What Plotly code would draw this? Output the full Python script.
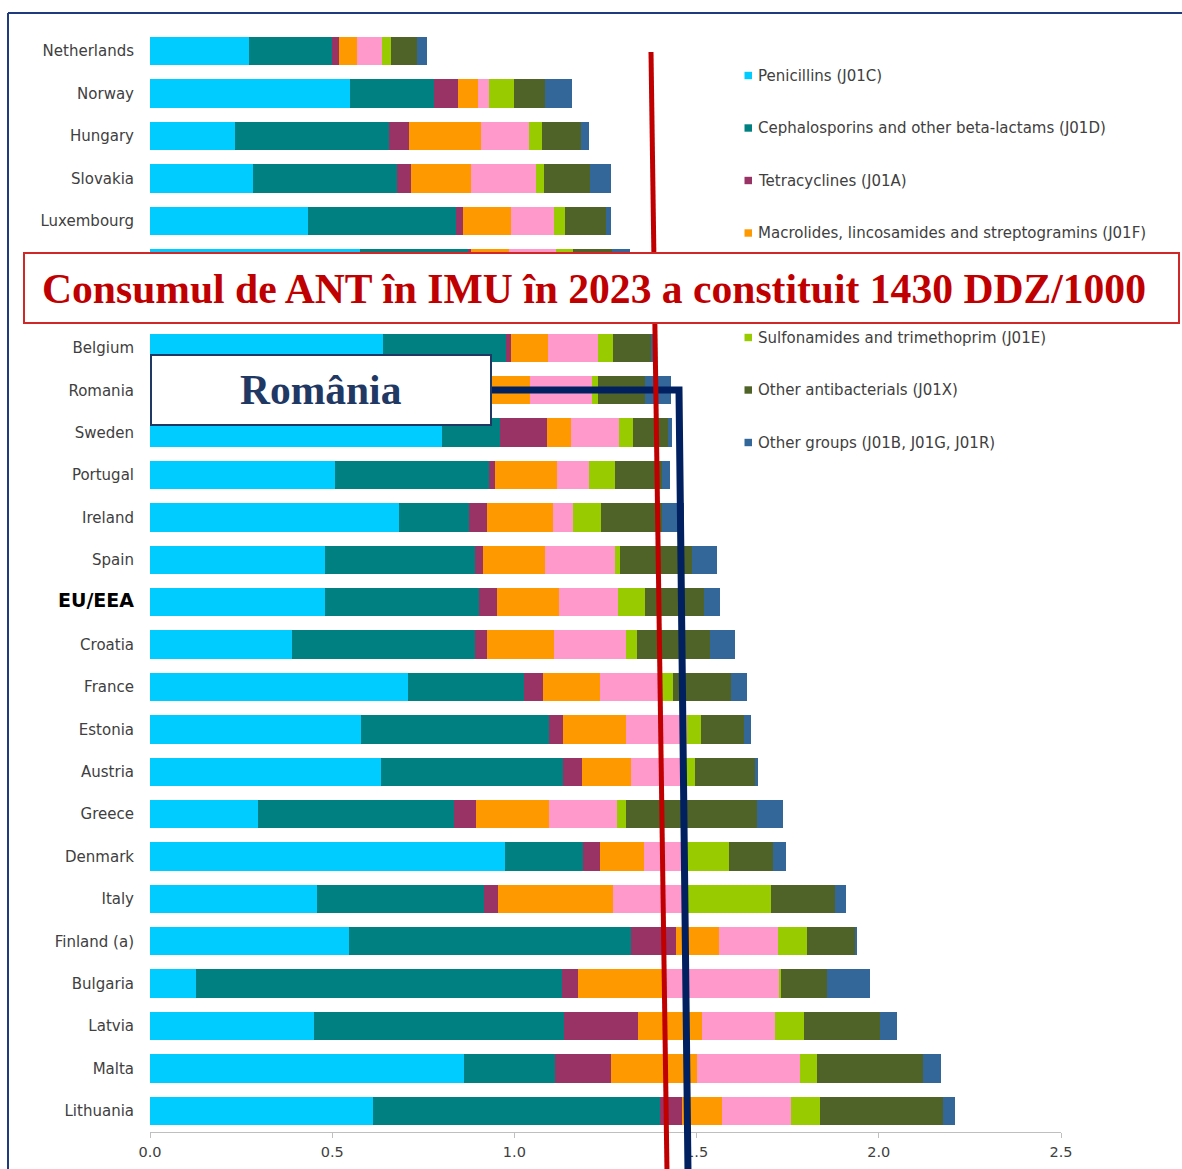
import plotly.graph_objects as go

# ---------------- data ----------------
countries = ["Netherlands", "Norway", "Hungary", "Slovakia", "Luxembourg", "Iceland", "Slovenia",
             "Belgium", "Romania", "Sweden", "Portugal", "Ireland", "Spain", "EU/EEA", "Croatia",
             "France", "Estonia", "Austria", "Greece", "Denmark", "Italy", "Finland (a)",
             "Bulgaria", "Latvia", "Malta", "Lithuania"]
# rows whose labels are covered by the banner in the reference
covered_rows = ["Iceland", "Slovenia"]

penicillins = [0.272, 0.548, 0.233, 0.284, 0.434, 0.576, 0.500, 0.640, 0.300, 0.801, 0.507, 0.682, 0.480,
               0.480, 0.391, 0.708, 0.579, 0.635, 0.297, 0.975, 0.459, 0.545, 0.127, 0.451, 0.863, 0.612]
cephalosporins = [0.228, 0.231, 0.423, 0.393, 0.406, 0.299, 0.400, 0.337, 0.550, 0.160, 0.424, 0.193, 0.413,
                  0.424, 0.502, 0.319, 0.515, 0.497, 0.537, 0.213, 0.457, 0.775, 1.004, 0.684, 0.248, 0.788]
tetracyclines = [0.020, 0.066, 0.055, 0.039, 0.020, 0.005, 0.030, 0.015, 0.040, 0.129, 0.017, 0.050, 0.020,
                 0.048, 0.031, 0.051, 0.040, 0.054, 0.060, 0.048, 0.040, 0.123, 0.043, 0.204, 0.153, 0.060]
macrolides = [0.049, 0.054, 0.198, 0.164, 0.132, 0.105, 0.120, 0.101, 0.153, 0.066, 0.169, 0.182, 0.170,
              0.171, 0.184, 0.158, 0.173, 0.134, 0.201, 0.119, 0.315, 0.119, 0.231, 0.176, 0.237, 0.111]
quinolones = [0.067, 0.031, 0.132, 0.179, 0.118, 0.128, 0.120, 0.137, 0.169, 0.131, 0.089, 0.054, 0.192,
              0.160, 0.199, 0.169, 0.166, 0.144, 0.187, 0.116, 0.206, 0.160, 0.323, 0.201, 0.282, 0.188]
sulfonamides = [0.025, 0.069, 0.034, 0.023, 0.029, 0.048, 0.040, 0.041, 0.018, 0.039, 0.069, 0.076, 0.016,
                0.076, 0.029, 0.030, 0.040, 0.031, 0.023, 0.119, 0.226, 0.080, 0.003, 0.079, 0.048, 0.079]
other_antibacterials = [0.071, 0.084, 0.109, 0.126, 0.113, 0.108, 0.100, 0.106, 0.129, 0.096, 0.129, 0.167, 0.195,
                        0.160, 0.202, 0.159, 0.117, 0.165, 0.361, 0.120, 0.176, 0.133, 0.127, 0.208, 0.291, 0.339]
other_groups = [0.027, 0.075, 0.022, 0.058, 0.014, 0.047, 0.030, 0.005, 0.071, 0.010, 0.023, 0.061, 0.070,
                0.046, 0.067, 0.044, 0.019, 0.008, 0.071, 0.035, 0.032, 0.003, 0.119, 0.047, 0.050, 0.031]

series_names = ["Penicillins (J01C)", "Cephalosporins and other beta-lactams (J01D)", "Tetracyclines (J01A)",
                "Macrolides, lincosamides and streptogramins (J01F)", "Quinolones (J01M)",
                "Sulfonamides and trimethoprim (J01E)", "Other antibacterials (J01X)",
                "Other groups (J01B, J01G, J01R)"]
series_values = [penicillins, cephalosporins, tetracyclines, macrolides, quinolones, sulfonamides,
                 other_antibacterials, other_groups]
series_colors = ["#00CCFF", "#008080", "#993366", "#FF9900", "#FF99CC", "#99CC00", "#4F6228", "#336699"]
# legend entry hidden under the banner in the reference
covered_legend = ["Quinolones (J01M)"]

x_ticks = [0.0, 0.5, 1.0, 1.5, 2.0, 2.5]
x_ticktext = ["0.0", "0.5", "1.0", "1.5", "2.0", "2.5"]

banner_text = "Consumul de ANT în IMU în 2023 a constituit 1430 DDZ/1000"
box_text = "România"

for v in series_values:
    assert len(v) == len(countries)

# ---------------- layout geometry (pixels) ----------------
W, H = 1182, 1169
ML, MR, MT, MB = 150, 121, 30, 37
PW, PH = W - ML - MR, H - MT - MB


def px(xp):
    return (xp - ML) / PW


def py(yp):
    return (H - MB - yp) / PH


fig = go.Figure()
for name, vals, col in zip(series_names, series_values, series_colors):
    fig.add_trace(go.Bar(y=countries, x=vals, name=name, orientation="h",
                         marker=dict(color=col, line=dict(width=0)), showlegend=False))

ticktext = []
for c in countries:
    if c == "EU/EEA":
        ticktext.append('<span style="font-size:19px;color:#000000"><b>EU/EEA</b></span>')
    elif c in covered_rows:
        ticktext.append("")
    else:
        ticktext.append(c)

shapes = []
annotations = []

# frame lines (slide border)
shapes.append(dict(type="line", xref="paper", yref="paper", x0=px(8), x1=px(1182), y0=py(13), y1=py(13),
                   line=dict(color="#1F3A7F", width=2)))
shapes.append(dict(type="line", xref="paper", yref="paper", x0=px(8), x1=px(8), y0=py(13), y1=py(1169),
                   line=dict(color="#1F3A7F", width=2)))

# custom legend
leg_y = [75.5, 128, 180.5, 233, 285, 337.5, 390, 442.5]
for name, col, yy in zip(series_names, series_colors, leg_y):
    shapes.append(dict(type="rect", xref="paper", yref="paper", x0=px(744.5), x1=px(752), y0=py(yy - 3.7),
                       y1=py(yy + 3.7), fillcolor=col, line=dict(width=0)))
    if name in covered_legend:
        continue
    annotations.append(dict(xref="paper", yref="paper", x=px(756), y=py(yy), text=name, showarrow=False,
                            xanchor="left", yanchor="middle",
                            font=dict(family="DejaVu Sans", size=15, color="#404040")))

# navy line from Romania box
shapes.append(dict(type="path", xref="paper", yref="paper",
                   path=f"M {px(490)},{py(390)} L {px(679)},{py(390)} L {px(688)},{py(1172)}",
                   line=dict(color="#002060", width=7)))
# red line
shapes.append(dict(type="line", xref="paper", yref="paper", x0=px(651), y0=py(52), x1=px(667), y1=py(1172),
                   line=dict(color="#C00000", width=5)))
# red banner box
shapes.append(dict(type="rect", xref="paper", yref="paper", x0=px(24), x1=px(1179), y0=py(323), y1=py(253),
                   fillcolor="#FFFFFF", line=dict(color="#D02828", width=2)))
# Romania box
shapes.append(dict(type="rect", xref="paper", yref="paper", x0=px(151), x1=px(491), y0=py(425), y1=py(355),
                   fillcolor="#FFFFFF", line=dict(color="#1F3864", width=2)))

annotations.append(dict(xref="paper", yref="paper", x=px(320.5), y=py(390), text=f"<b>{box_text}</b>",
                        showarrow=False, xanchor="center", yanchor="middle",
                        font=dict(family="Liberation Serif", size=41.5, color="#1F3864")))
annotations.append(dict(xref="paper", yref="paper", x=px(594), y=py(289), text=f"<b>{banner_text}</b>",
                        showarrow=False, xanchor="center", yanchor="middle",
                        font=dict(family="Liberation Serif", size=41.6, color="#C00000")))

fig.update_layout(
    width=W, height=H, barmode="stack", bargap=0.33,
    margin=dict(l=ML, r=MR, t=MT, b=MB, pad=0, autoexpand=False),
    paper_bgcolor="#FFFFFF", plot_bgcolor="#FFFFFF",
    font=dict(family="DejaVu Sans", size=15, color="#404040"),
    xaxis=dict(range=[0, 2.5], tickvals=x_ticks, ticktext=x_ticktext, showgrid=False, zeroline=False,
               showline=True, linecolor="#BFBFBF", linewidth=1, ticks="outside", ticklen=5,
               tickcolor="#BFBFBF", ticklabelstandoff=2, automargin=False,
               tickfont=dict(family="DejaVu Sans", size=14.5, color="#404040")),
    yaxis=dict(categoryorder="array", categoryarray=countries, range=[25.5, -0.5],
               tickvals=countries, ticktext=ticktext, showgrid=False, zeroline=False, showline=False,
               ticks="", ticklabelstandoff=15, automargin=False,
               tickfont=dict(family="DejaVu Sans", size=15, color="#404040")),
    shapes=shapes, annotations=annotations,
)

fig.write_html("out.html")
